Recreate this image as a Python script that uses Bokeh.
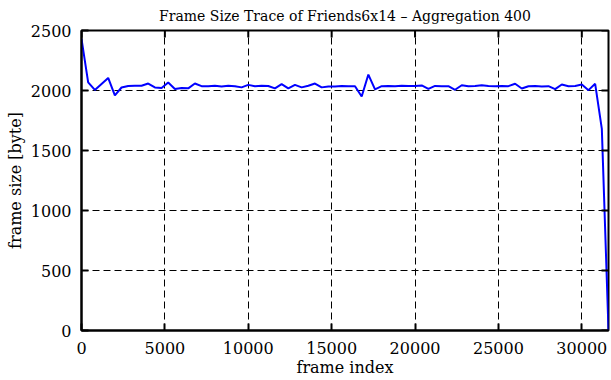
import math
from bokeh.plotting import figure
from bokeh.models import Range1d, FixedTicker, Title
from bokeh.embed import file_html
from bokeh.resources import INLINE

frame_index = list(range(0, 31601, 400))
frame_size = [
    2430, 2068, 2005, 2055, 2105, 1960, 2025, 2038, 2040, 2040,
    2058, 2026, 2021, 2066, 2013, 2020, 2018, 2058, 2036, 2036,
    2040, 2034, 2040, 2036, 2026, 2047, 2036, 2040, 2038, 2018,
    2053, 2018, 2047, 2026, 2040, 2058, 2026, 2034, 2034, 2038,
    2036, 2036, 1950, 2133, 2010, 2036, 2038, 2036, 2040, 2038,
    2038, 2042, 2014, 2038, 2036, 2036, 2006, 2044, 2036, 2038,
    2044, 2038, 2036, 2038, 2036, 2056, 2017, 2036, 2038, 2034,
    2036, 2011, 2050, 2036, 2038, 2050, 2003, 2056, 1680, 0,
]
x_ticks = [0, 5000, 10000, 15000, 20000, 25000, 30000]
y_ticks = [0, 500, 1000, 1500, 2000, 2500]
x_max = 31600
y_max = 2500

FONT = "DejaVu Serif"

p = figure(frame_width=527, frame_height=300, output_backend="svg", toolbar_location=None,
           x_range=Range1d(0, x_max), y_range=Range1d(0, y_max),
           title="Frame Size Trace of Friends6x14 \u2013 Aggregation 400",
           min_border_left=81, min_border_right=3, min_border_top=30, min_border_bottom=50)
p.background_fill_color = "white"
p.border_fill_color = "white"
p.outline_line_color = "black"
p.outline_line_width = 2

p.title.align = "center"
p.title.vertical_align = "top"
p.title.text_font = FONT
p.title.text_font_size = "14px"
p.title.text_font_style = "normal"
p.title.text_color = "black"
p.title.standoff = 10

for g in (p.xgrid[0], p.ygrid[0]):
    g.grid_line_color = "black"
    g.grid_line_width = 1
    g.grid_line_dash = "7 4"

p.line(frame_index, frame_size, line_color="#0000ff", line_width=2)

# inner tick marks on the top and right edges (half of each dash is clipped by the frame)
p.scatter(x_ticks, [y_max] * len(x_ticks), marker="dash", size=14, angle=math.pi / 2,
          line_color="black", line_width=2)
p.scatter([x_max] * len(y_ticks), y_ticks, marker="dash", size=14,
          line_color="black", line_width=2)

for ax, ticks in ((p.xaxis[0], x_ticks), (p.yaxis[0], y_ticks)):
    ax.ticker = FixedTicker(ticks=ticks)
    ax.major_tick_in = 7
    ax.major_tick_out = 0
    ax.minor_tick_in = 0
    ax.minor_tick_out = 0
    ax.major_tick_line_color = "black"
    ax.major_tick_line_width = 2
    ax.axis_line_color = "black"
    ax.axis_line_width = 2
    ax.major_label_text_font = FONT
    ax.major_label_text_font_size = "16px"
    ax.major_label_text_color = "black"
    ax.major_label_standoff = 10
    ax.axis_label_text_font = FONT
    ax.axis_label_text_font_size = "16px"
    ax.axis_label_text_font_style = "normal"
    ax.axis_label_text_color = "black"

p.xaxis.axis_label = "frame index"
p.xaxis.major_label_standoff = 11
p.xaxis.axis_label_standoff = 1

# y-axis label as a side title, so it can sit at the far left edge
ylab = Title(text="frame size [byte]", align="center", text_font=FONT,
             text_font_size="16px", text_font_style="normal", text_color="black",
             standoff=5)
p.add_layout(ylab, "left")

open("out.html", "w").write(file_html(p, INLINE))
